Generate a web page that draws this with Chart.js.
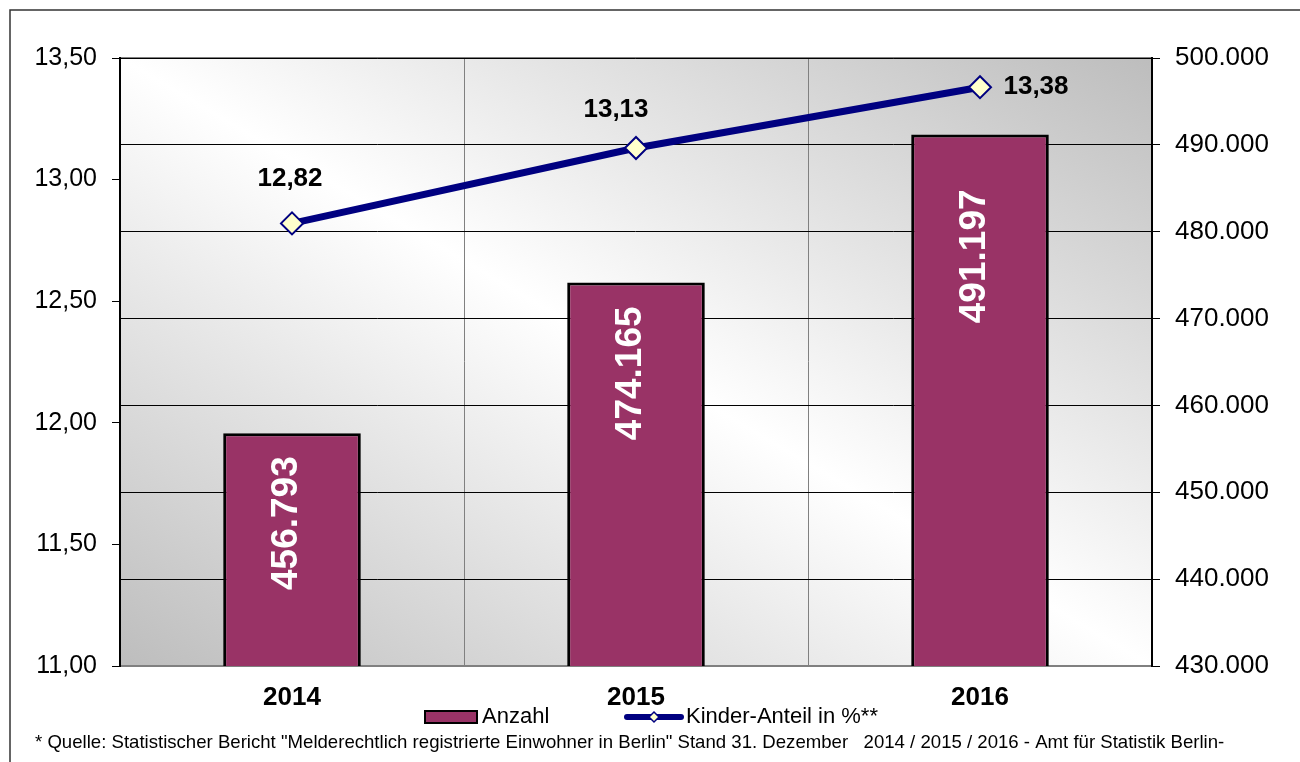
<!DOCTYPE html>
<html>
<head>
<meta charset="utf-8">
<script src="https://cdn.jsdelivr.net/npm/chart.js@4.4.1/dist/chart.umd.min.js"></script>
<style>
    html, body { margin: 0; padding: 0; background: #fff; }
    #wrap { position: relative; width: 1300px; height: 762px; }
</style>
</head>
<body>
<div id="wrap"><canvas id="chart" width="1300" height="762"></canvas></div>
<script>
// Daten
const years = ['2014', '2015', '2016'];
const anzahl = [456793, 474165, 491197];
const kinderAnteil = [12.82, 13.13, 13.38];
const leftTicks = [11.0, 11.5, 12.0, 12.5, 13.0, 13.5];
const rightTicks = [430000, 440000, 450000, 460000, 470000, 480000, 490000, 500000];
const footnote = '* Quelle: Statistischer Bericht "Melderechtlich registrierte Einwohner in Berlin" Stand 31. Dezember   2014 / 2015 / 2016 - Amt für Statistik Berlin-';

const FONT = '"Liberation Sans", Arial, sans-serif';
const BAR_COLOR = '#993366';
const LINE_COLOR = '#000080';
const MARKER_FILL = '#FFFFCC';

const fmtLeft = v => v.toFixed(2).replace('.', ',');
const fmtRight = v => v.toLocaleString('de-DE');

// Hintergrund der Zeichenfläche (diagonaler Verlauf)
const plotBackground = {
    id: 'plotBackground',
    beforeDraw(chart) {
        const { ctx, chartArea: a } = chart;
        const w = a.right - a.left, h = a.bottom - a.top;
        const cx = a.left + w / 2, cy = a.top + h / 2;
        const k = (w * h) / (w * w + h * h);
        const g = ctx.createLinearGradient(cx - h * k, cy + w * k, cx + h * k, cy - w * k);
        g.addColorStop(0, '#bdbdbd');
        g.addColorStop(0.5, '#ffffff');
        g.addColorStop(1, '#bdbdbd');
        ctx.save();
        ctx.fillStyle = g;
        ctx.fillRect(a.left, a.top, w, h);
        // Rahmen oben
        ctx.strokeStyle = '#808080';
        ctx.lineWidth = 2;
        ctx.beginPath();
        ctx.moveTo(a.left, a.top);
        ctx.lineTo(a.right, a.top);
        ctx.stroke();
        // äußerer Rahmen
        ctx.strokeStyle = '#333';
        ctx.lineWidth = 1.5;
        ctx.beginPath();
        ctx.moveTo(10, 762);
        ctx.lineTo(10, 10);
        ctx.lineTo(1300, 10);
        ctx.stroke();
        ctx.restore();
    }
};

// Beschriftungen, Legende, Fußnote
const labelsPlugin = {
    id: 'labelsPlugin',
    afterDatasetsDraw(chart) {
        const { ctx } = chart;
        ctx.save();

        // Balkenwerte (gedreht, weiß)
        const barMeta = chart.getDatasetMeta(1);
        const barGap = [23, 24, 55];
        ctx.fillStyle = '#fff';
        ctx.font = 'bold 37px ' + FONT;
        ctx.textAlign = 'right';
        ctx.textBaseline = 'alphabetic';
        barMeta.data.forEach((bar, i) => {
            ctx.save();
            ctx.translate(bar.x + 5, bar.y + barGap[i]);
            ctx.rotate(-Math.PI / 2);
            ctx.fillText(fmtRight(anzahl[i]), 0, 0);
            ctx.restore();
        });

        // Linienwerte
        const lineMeta = chart.getDatasetMeta(0);
        const offsets = [[-2, -45], [-20, -38], [56, 0]];
        ctx.fillStyle = '#000';
        ctx.font = 'bold 26px ' + FONT;
        ctx.textAlign = 'center';
        ctx.textBaseline = 'middle';
        lineMeta.data.forEach((pt, i) => {
            ctx.fillText(fmtLeft(kinderAnteil[i]), pt.x + offsets[i][0], pt.y + offsets[i][1]);
        });

        // Legende
        const ly = 717;
        ctx.fillStyle = BAR_COLOR;
        ctx.strokeStyle = '#000';
        ctx.lineWidth = 2;
        ctx.fillRect(425, ly - 6, 52, 12);
        ctx.strokeRect(425, ly - 6, 52, 12);
        ctx.strokeStyle = LINE_COLOR;
        ctx.lineWidth = 6;
        ctx.lineCap = 'round';
        ctx.beginPath();
        ctx.moveTo(627, ly);
        ctx.lineTo(681, ly);
        ctx.stroke();
        ctx.fillStyle = MARKER_FILL;
        ctx.lineWidth = 1.5;
        ctx.beginPath();
        ctx.moveTo(654 - 5, ly);
        ctx.lineTo(654, ly - 5);
        ctx.lineTo(654 + 5, ly);
        ctx.lineTo(654, ly + 5);
        ctx.closePath();
        ctx.fill();
        ctx.stroke();
        ctx.fillStyle = '#000';
        ctx.font = '22px ' + FONT;
        ctx.textAlign = 'left';
        ctx.textBaseline = 'middle';
        ctx.fillText('Anzahl', 482, ly);
        ctx.fillText('Kinder-Anteil in %**', 686, ly);

        // Fußnote
        ctx.font = '18.6px ' + FONT;
        ctx.fillText(footnote, 35, 743);
        ctx.restore();
    }
};

new Chart(document.getElementById('chart'), {
    data: {
        labels: years,
        datasets: [
            {
                type: 'line',
                label: 'Kinder-Anteil in %**',
                data: kinderAnteil,
                yAxisID: 'y',
                order: 0,
                borderColor: LINE_COLOR,
                borderWidth: 7,
                pointStyle: 'rectRot',
                pointRadius: 11,
                pointBackgroundColor: MARKER_FILL,
                pointBorderColor: LINE_COLOR,
                pointBorderWidth: 2,
                tension: 0
            },
            {
                type: 'bar',
                label: 'Anzahl',
                data: anzahl,
                yAxisID: 'y1',
                order: 1,
                backgroundColor: BAR_COLOR,
                borderColor: '#000',
                borderWidth: 3,
                borderSkipped: false,
                barPercentage: 0.4,
                categoryPercentage: 1.0
            }
        ]
    },
    options: {
        responsive: false,
        animation: false,
        devicePixelRatio: 1,
        layout: { padding: { left: 0, right: 0, top: 58, bottom: 0 } },
        plugins: {
            legend: { display: false },
            tooltip: { enabled: false }
        },
        scales: {
            x: {
                grid: { color: '#808080', lineWidth: 1, drawTicks: false, offset: true },
                border: { color: '#808080', width: 2 },
                ticks: { color: '#000', font: { family: FONT, size: 26, weight: 'bold' }, padding: 16 },
                afterFit(scale) { scale.height = 96; }
            },
            y: {
                position: 'left',
                min: 11,
                max: 13.5,
                afterBuildTicks(scale) { scale.ticks = leftTicks.map(v => ({ value: v })); },
                grid: { drawOnChartArea: false, color: '#000', tickLength: 8 },
                border: { color: '#000', width: 2 },
                ticks: { color: '#000', font: { family: FONT, size: 25 }, padding: 15, callback: v => fmtLeft(v) },
                afterFit(scale) { scale.width = 120; }
            },
            y1: {
                position: 'right',
                min: 430000,
                max: 500000,
                afterBuildTicks(scale) { scale.ticks = rightTicks.map(v => ({ value: v })); },
                grid: { color: '#000', lineWidth: 1, tickLength: 8 },
                border: { color: '#000', width: 2 },
                ticks: { color: '#000', font: { family: FONT, size: 26 }, padding: 15, callback: v => fmtRight(v) },
                afterFit(scale) { scale.width = 148; }
            }
        }
    },
    plugins: [plotBackground, labelsPlugin]
});
</script>
</body>
</html>
